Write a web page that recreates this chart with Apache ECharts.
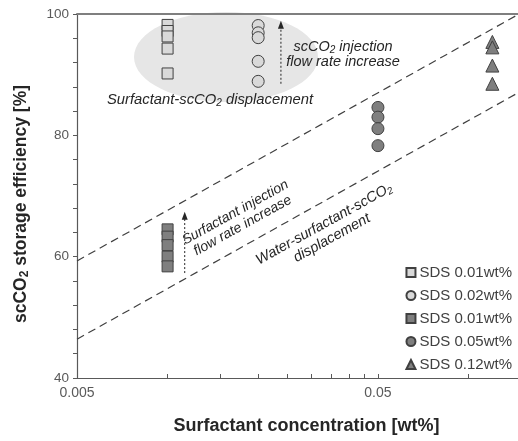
<!DOCTYPE html>
<html><head><meta charset="utf-8">
<script src="https://cdn.jsdelivr.net/npm/echarts@6/dist/echarts.min.js"></script>
<style>html,body{margin:0;padding:0;background:#fff}#c{width:518px;height:441px}</style>
</head><body><div id="c"></div>
<script>
// concentrations [wt%]
const concLightSquare = 0.01, concLightCircle = 0.02, concDarkSquare = 0.01, concDarkCircle = 0.05, concTriangle = 0.12;
// storage efficiency [%]
const lightSquare = [98.2, 97.2, 96.3, 94.3, 90.2];
const lightCircle = [98.1, 96.9, 96.1, 92.2, 88.9];
const darkSquare = [64.5, 63.3, 61.9, 60.0, 58.4];
const darkCircle = [84.6, 83.0, 81.1, 78.3];
const triangle = [95.4, 94.5, 91.5, 88.5];
const legendLabels = ['SDS 0.01wt%', 'SDS 0.02wt%', 'SDS 0.01wt%', 'SDS 0.05wt%', 'SDS 0.12wt%'];
const upperTrend = [[0.005, 59.3], [0.146, 99.9]];
const lowerTrend = [[0.005, 46.4], [0.146, 87.0]];
const xTickValues = [0.005, 0.01, 0.015, 0.02, 0.025, 0.03, 0.035, 0.04, 0.045, 0.05, 0.1];
const xLabelValues = [0.005, 0.05];
const yLabelValues = [40, 60, 80, 100];

const FONT = 'Arial, "Liberation Sans", sans-serif';
const pts = (x, arr) => arr.map(v => [x, v]);
const chart = echarts.init(document.getElementById('c'), null, {renderer: 'canvas'});
const ids = ['s1', 's2', 's3', 's4', 's5'];
const axisCol = '#595959';

chart.setOption({
  animation: false,
  textStyle: {fontFamily: FONT},
  grid: {left: 77, right: 0, top: 14, bottom: 63},
  xAxis: [{
    type: 'log', logBase: 10, min: 0.005, max: 0.146,
    axisLine: {lineStyle: {color: axisCol, width: 1.2}},
    axisTick: {inside: true, length: 4, customValues: xTickValues, lineStyle: {color: axisCol}},
    minorTick: {show: false},
    axisLabel: {customValues: xLabelValues, color: axisCol, fontSize: 14, margin: 8, fontFamily: FONT,
      formatter: v => String(+v.toPrecision(3))},
    splitLine: {show: false},
    name: 'Surfactant concentration [wt%]', nameLocation: 'middle', nameGap: 39,
    nameTextStyle: {fontSize: 18, fontWeight: 'bold', color: '#262626', padding: [0, 0, 0, 18], fontFamily: FONT}
  }, {
    type: 'log', logBase: 10, min: 0.005, max: 0.146, position: 'top',
    axisLine: {lineStyle: {color: '#7f7f7f', width: 2}},
    axisTick: {show: false}, axisLabel: {show: false}, splitLine: {show: false}
  }],
  yAxis: {
    type: 'value', min: 40, max: 100, interval: 4,
    axisLine: {show: true, lineStyle: {color: axisCol, width: 1.2}},
    axisTick: {show: true, length: 4, lineStyle: {color: axisCol}},
    axisLabel: {color: axisCol, fontSize: 13.5, margin: 8, fontFamily: FONT,
      formatter: v => yLabelValues.includes(v) ? String(v) : ''},
    splitLine: {show: false},
    name: '{b|scCO}{s|2}{b| storage efficiency [%]}', nameLocation: 'middle', nameGap: 46, nameRotate: 90,
    nameTextStyle: {padding: [0, 16, 0, 0], rich: {
      b: {fontSize: 17.5, fontWeight: 'bold', color: '#262626', fontFamily: FONT},
      s: {fontSize: 12, fontWeight: 'bold', color: '#262626', fontFamily: FONT, verticalAlign: 'bottom', padding: [7, 0, 0, 0]}
    }}
  },
  legend: {
    orient: 'vertical', right: 1, bottom: 64, itemWidth: 9, itemHeight: 9, itemGap: 8,
    data: ids,
    formatter: n => legendLabels[ids.indexOf(n)],
    textStyle: {fontSize: 15, color: '#404040', fontFamily: FONT, padding: [0, 0, 0, -1]}
  },
  series: [
    {name: 's1', type: 'scatter', symbol: 'rect', symbolSize: 11, data: pts(concLightSquare, lightSquare),
      itemStyle: {color: '#d9d9d9', borderColor: '#404040', borderWidth: 1, opacity: 1}},
    {name: 's2', type: 'scatter', symbol: 'circle', symbolSize: 12, data: pts(concLightCircle, lightCircle),
      itemStyle: {color: '#d9d9d9', borderColor: '#404040', borderWidth: 1, opacity: 1}},
    {name: 's3', type: 'scatter', symbol: 'rect', symbolSize: 11, data: pts(concDarkSquare, darkSquare),
      itemStyle: {color: '#7f7f7f', borderColor: '#404040', borderWidth: 1, opacity: 1}},
    {name: 's4', type: 'scatter', symbol: 'circle', symbolSize: 12, data: pts(concDarkCircle, darkCircle),
      itemStyle: {color: '#7f7f7f', borderColor: '#404040', borderWidth: 1, opacity: 1}},
    {name: 's5', type: 'scatter', symbol: 'triangle', symbolSize: 13, data: pts(concTriangle, triangle),
      itemStyle: {color: '#7f7f7f', borderColor: '#404040', borderWidth: 1, opacity: 1}},
    {type: 'line', data: upperTrend, symbol: 'none', silent: true,
      lineStyle: {color: '#404040', width: 1.2, type: [8, 5]}},
    {type: 'line', data: lowerTrend, symbol: 'none', silent: true,
      lineStyle: {color: '#404040', width: 1.2, type: [8, 5]}}
  ]
});

const P = (x, y) => chart.convertToPixel({xAxisIndex: 0, yAxisIndex: 0}, [x, y]);
const ang = 29 * Math.PI / 180;
const italic = {fontStyle: 'italic', fontFamily: FONT, fill: '#262626'};
const a1 = P(0.0238, 98.9), a1b = P(0.0238, 88.5);
const a2 = P(0.0114, 67.4), a2b = P(0.0114, 57.3);
chart.setOption({graphic: [
  {type: 'ellipse', z: -10, silent: true, shape: {cx: 226, cy: 57, rx: 92, ry: 45}, style: {fill: '#e6e6e6'}},
  {type: 'line', shape: {x1: a1[0], y1: a1b[1], x2: a1[0], y2: a1[1] + 6}, style: {stroke: '#262626', lineWidth: 1, lineDash: [2, 2]}},
  {type: 'polygon', shape: {points: [[a1[0], a1[1]], [a1[0] - 3, a1[1] + 8], [a1[0] + 3, a1[1] + 8]]}, style: {fill: '#262626'}},
  {type: 'line', shape: {x1: a2[0], y1: a2b[1], x2: a2[0], y2: a2[1] + 6}, style: {stroke: '#262626', lineWidth: 1, lineDash: [2, 2]}},
  {type: 'polygon', shape: {points: [[a2[0], a2[1]], [a2[0] - 3, a2[1] + 8], [a2[0] + 3, a2[1] + 8]]}, style: {fill: '#262626'}},
  {type: 'text', x: 343, y: 54, style: {
    text: '{i|scCO}{s|2}{i| injection}\n{i|flow rate increase}', align: 'center', verticalAlign: 'middle',
    rich: {i: Object.assign({fontSize: 14.5, lineHeight: 15}, italic), s: Object.assign({fontSize: 10, lineHeight: 15, padding: [7, 0, 0, 0]}, italic)}}},
  {type: 'text', x: 210, y: 100, style: {
    text: '{i|Surfactant-scCO}{s|2}{i| displacement}', align: 'center', verticalAlign: 'middle',
    rich: {i: Object.assign({fontSize: 14.8}, italic), s: Object.assign({fontSize: 10, padding: [7, 0, 0, 0]}, italic)}}},
  {type: 'text', x: 239, y: 219, rotation: ang, style: {
    text: 'Surfactant injection\nflow rate increase', align: 'center', verticalAlign: 'middle', lineHeight: 15,
    fontSize: 14, fontStyle: 'italic', fontFamily: FONT, fill: '#262626'}},
  {type: 'text', x: 328, y: 231, rotation: ang, style: {
    text: '{i|Water-surfactant-scCO}{s|2}\n{i|displacement}', align: 'center', verticalAlign: 'middle',
    rich: {i: Object.assign({fontSize: 14.5, lineHeight: 16}, italic), s: Object.assign({fontSize: 10, lineHeight: 16, padding: [7, 0, 0, 0]}, italic)}}}
]});
</script></body></html>
